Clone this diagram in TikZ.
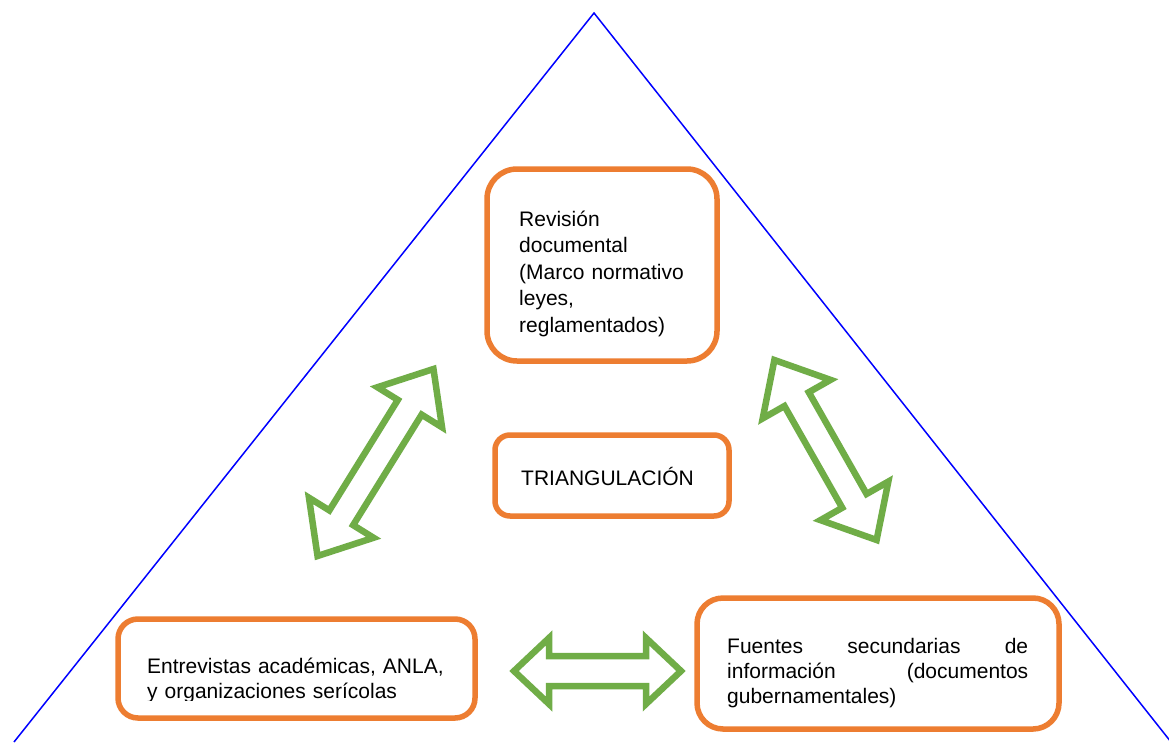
\documentclass[tikz,border=0pt]{standalone}
\usepackage{fontspec}
\setmainfont{Liberation Sans}
\definecolor{orng}{HTML}{ED7D31}
\definecolor{grn}{HTML}{70AD47}
\tikzset{
  box/.style={draw=orng, line width=5.5pt, rectangle, inner sep=0pt},
  txt/.style={inner sep=0pt, font=\fontsize{21}{26.5}\selectfont, align=left, anchor=north west},
  blk/.style={draw=grn, line width=6.5pt, miter limit=10},
  triline/.style={draw=blue, line width=1.5pt}
}
\newcommand\blockarrow[7]{% cx cy angle L H W S
  \begin{scope}[shift={(#1,#2)}, rotate=#3]
    \draw[blk] (-#4,0) -- (-#4+#5,#6) -- (-#4+#5,#7) -- (#4-#5,#7) -- (#4-#5,#6) -- (#4,0)
      -- (#4-#5,-#6) -- (#4-#5,-#7) -- (-#4+#5,-#7) -- (-#4+#5,-#6) -- cycle;
  \end{scope}}
\begin{document}
\begin{tikzpicture}[x=1pt,y=-1pt]
\useasboundingbox[fill=white] (0,0) rectangle (1169,742);
% triangle
\coordinate (apex) at (594,13);
\coordinate (bl) at (14,742);
\coordinate (br) at (1171,742);
\draw[triline] (bl) -- (apex) -- (br);
% boxes
\node[box, rounded corners=30pt, minimum width=230pt, minimum height=192pt] (rev) at (602,265) {};
\node[box, rounded corners=15pt, minimum width=234pt, minimum height=81pt] (tri) at (612,475.5) {};
\node[box, rounded corners=20pt, minimum width=357pt, minimum height=99pt] (ent) at (296.5,668.5) {};
\node[box, rounded corners=26pt, minimum width=362pt, minimum height=131pt] (fue) at (878,663.5) {};
% texts
\node[txt, text width=200pt] (revt) at (519,204) {\rule{0pt}{22pt}Revisión\\documental\\(Marco normativo\\leyes,\\reglamentados)};
\node[inner sep=0pt, font=\fontsize{21}{26.5}\selectfont, anchor=base west] (trit) at (521,485) {TRIANGULACIÓN};
\begin{scope}
  \clip (140,630) rectangle (470,700);
  \node[txt, text width=320pt, font=\fontsize{21}{25}\selectfont] (entt) at (147,651) {\rule{0pt}{22pt}Entrevistas académicas, ANLA,\\y organizaciones serícolas};
\end{scope}
\node[txt, text width=301pt, font=\fontsize{21}{25}\selectfont] (fuet) at (727,631) {\rule{0pt}{22pt}Fuentes\hfill secundarias\hfill de\\información\hfill (documentos\\gubernamentales)};
% block arrows
\blockarrow{375.5}{462.5}{58.2}{110}{45}{38}{14}
\blockarrow{825.5}{450}{-60.4}{103.5}{45}{39}{14}
\blockarrow{597.5}{671}{0}{83.5}{35}{33}{15}
\end{tikzpicture}
\end{document}
